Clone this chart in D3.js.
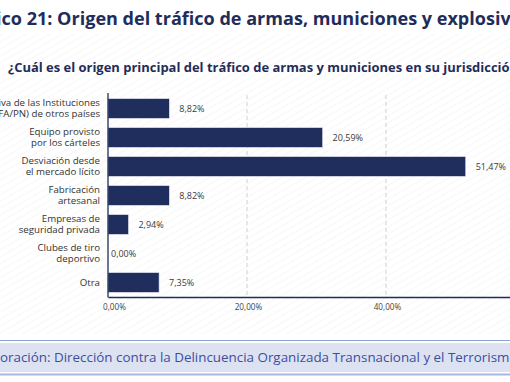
<!DOCTYPE html>
<html><head><meta charset="utf-8">
<script src="https://cdn.jsdelivr.net/npm/d3@7"></script>
<style>
html,body{margin:0;padding:0;background:#fff;overflow:hidden}
svg{display:block}
text{font-variant-ligatures:none;font-feature-settings:"liga" 0}
</style></head><body>
<svg id="c" width="510" height="382"></svg>
<script>
const categories = [
  ["Dotación operativa de las Instituciones", "(FA/PN) de otros países"],
  ["Equipo provisto", "por los cárteles"],
  ["Desviación desde", "el mercado lícito"],
  ["Fabricación", "artesanal"],
  ["Empresas de", "seguridad privada"],
  ["Clubes de tiro", "deportivo"],
  ["Otra"]
];
// bar lengths as drawn in the picture (percent)
const barValues = [8.82, 30.88, 51.47, 8.82, 2.94, 0.0, 7.35];
// value labels as printed
const valueLabels = ["8,82%", "20,59%", "51,47%", "8,82%", "2,94%", "0,00%", "7,35%"];
const tickValues = [0, 20, 40, 60];
const tickLabels = ["0,00%", "20,00%", "40,00%", "60,00%"];
const title = "Gráfico 21: Origen del tráfico de armas, municiones y explosivos";
const subtitle = "¿Cuál es el origen principal del tráfico de armas y municiones en su jurisdicción?";
const footer = "Elaboración: Dirección contra la Delincuencia Organizada Transnacional y el Terrorismo";

const svg = d3.select("#c");
const FONT = "'Open Sans', Lato, sans-serif";
const NAVY = "#1f2d5a";

// faint diagonal stripe background
const defs = svg.append("defs");
const pat = defs.append("pattern").attr("id","stripes").attr("patternUnits","userSpaceOnUse")
  .attr("width",6).attr("height",6).attr("patternTransform","rotate(-30)");
pat.append("line").attr("x1",0).attr("y1",0).attr("x2",6).attr("y2",0)
  .attr("stroke","#f1f1f3").attr("stroke-width",1.2);
svg.append("rect").attr("x",0).attr("y",34).attr("width",510).attr("height",300).attr("fill","url(#stripes)");

// helper: fit text so that substring [a,b) spans from px0 to px1
function fitText(sel, full, a, b, px0, px1){
  sel.text(full);
  const node = sel.node();
  const fs = +sel.attr("font-size");
  const w = node.getSubStringLength(a, b-a);
  const k = (px1-px0)/w;
  sel.attr("font-size", fs*k);
  const pre = a>0 ? node.getSubStringLength(0, a) : 0;
  sel.attr("x", px0 - pre);
}

// title
const tt = svg.append("text").attr("y",25)
  .attr("font-family",FONT).attr("font-weight","700").attr("font-size",18)
  .attr("fill",NAVY);
fitText(tt, title, title.indexOf("ico 21"), title.indexOf("explosiv")+8, -4, 511);

// subtitle
const st = svg.append("text").attr("y",72)
  .attr("font-family",FONT).attr("font-weight","700").attr("font-size",12)
  .attr("fill",NAVY);
fitText(st, subtitle, 0, subtitle.indexOf("jurisdicció")+11, 8, 510);

// scales
const x = d3.scaleLinear().domain([0,60]).range([108, 525]);
const y = d3.scaleBand().domain(d3.range(categories.length)).range([94, 297]).paddingInner(0.32).paddingOuter(0.16);

// gridlines
svg.append("g").selectAll("line").data(tickValues.filter(d=>d>0)).join("line")
  .attr("x1",d=>x(d)).attr("x2",d=>x(d)).attr("y1",95).attr("y2",297)
  .attr("stroke","#cfcfcf").attr("stroke-width",1).attr("stroke-dasharray","4,3");

// bars
svg.append("g").selectAll("rect").data(barValues).join("rect")
  .attr("x",x(0)).attr("y",(d,i)=>y(i)).attr("width",d=>x(d)-x(0)).attr("height",y.bandwidth())
  .attr("fill","#1f2e5c").attr("stroke","#dfe3ee").attr("stroke-width",0.6);

// value labels
svg.append("g").selectAll("text").data(barValues).join("text")
  .attr("x",d=>x(d)+ (d===0?3:10)).attr("y",(d,i)=>y(i)+y.bandwidth()/2+3.3)
  .text((d,i)=>valueLabels[i])
  .attr("font-family",FONT).attr("font-size",9).attr("fill","#3a3a3a");

// axes
const xAxis = d3.axisBottom(x).tickValues(tickValues).tickFormat((d,i)=>tickLabels[i]).tickSize(0).tickPadding(7);
const gx = svg.append("g").attr("transform","translate(0,297)").call(xAxis);
gx.select(".domain").attr("stroke",NAVY).attr("stroke-width",1.3);
gx.selectAll("text").attr("font-family",FONT).attr("font-size",8.2).attr("fill","#444")
  .attr("dx",(d,i)=>i===0?6:1);

svg.append("line").attr("x1",x(0)).attr("x2",x(0)).attr("y1",93).attr("y2",297.5)
  .attr("stroke",NAVY).attr("stroke-width",1.3);

// category labels
const cg = svg.append("g").selectAll("text").data(categories).join("text")
  .attr("text-anchor","end")
  .attr("font-family",FONT).attr("font-size",9.7).attr("fill","#333");
cg.each(function(lines,i){
  const t = d3.select(this);
  const cy = y(i)+y.bandwidth()/2;
  const lh = 11;
  const start = cy - (lines.length-1)*lh/2 + 3.4;
  lines.forEach((l,j)=>t.append("tspan").attr("x",100).attr("y",start+j*lh).text(l));
});

// footer
svg.append("line").attr("x1",0).attr("x2",510).attr("y1",340.5).attr("y2",340.5).attr("stroke","#8ea2d4").attr("stroke-width",1);
svg.append("rect").attr("x",0).attr("y",343).attr("width",510).attr("height",29).attr("fill","#dde2f2");
svg.append("line").attr("x1",0).attr("x2",510).attr("y1",374.5).attr("y2",374.5).attr("stroke","#a9b7e0").attr("stroke-width",1.8);
const ft = svg.append("text").attr("y",362)
  .attr("font-family",FONT).attr("font-size",12).attr("fill","#3b4f9c");
fitText(ft, footer, footer.indexOf("oración"), footer.indexOf("Terrorism")+9, 0, 510);
</script></body></html>
